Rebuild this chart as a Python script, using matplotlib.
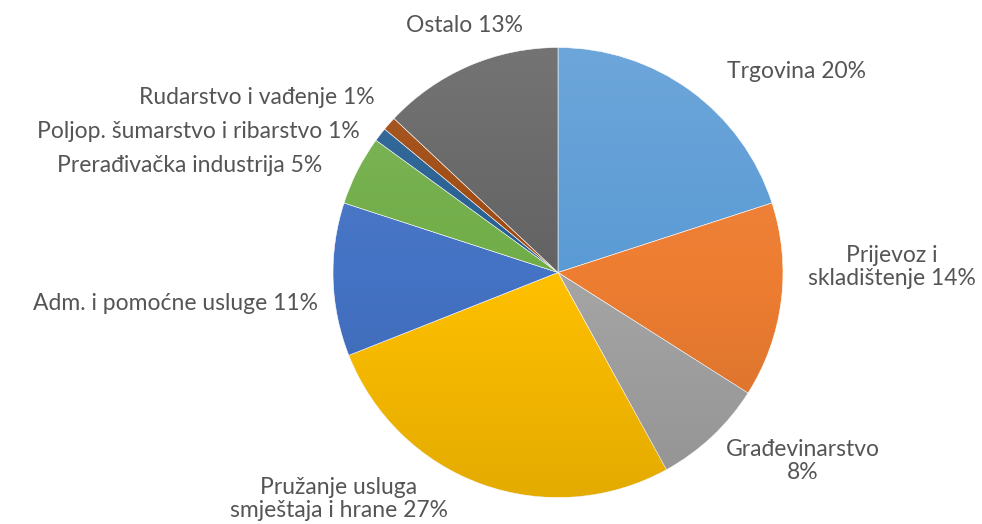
import numpy as np
import matplotlib
matplotlib.use('Agg')
import matplotlib.pyplot as plt

plt.rcParams['font.family'] = ['Lato', 'DejaVu Sans']

labels = ['Trgovina', 'Prijevoz i\nskladištenje', 'Građevinarstvo\n', 'Pružanje usluga\nsmještaja i hrane',
          'Adm. i pomoćne usluge', 'Prerađivačka industrija', 'Poljop. šumarstvo i ribarstvo',
          'Rudarstvo i vađenje', 'Ostalo']
shares = [20, 14, 8, 27, 11, 5, 1, 1, 13]
colors = ['#5B9BD5', '#ED7D31', '#A5A5A5', '#FFC000', '#4472C4', '#70AD47', '#255E91', '#9E480E', '#636363']

W, H = 982, 524

# label anchor points (pixels from top-left) and alignment
label_pos = [(797, 72, 'center'), (892, 267, 'center'), (803, 461, 'center'), (339, 499, 'center'),
             (318, 303, 'right'), (322, 165, 'right'), (360, 132, 'right'), (375, 97, 'right'),
             (465, 25, 'center')]

fig = plt.figure(figsize=(W / 100, H / 100), dpi=100)
ax = fig.add_axes([0, 0, 1, 1])
ax.set_aspect('equal')
ax.axis('off')

cx, cy, r = 558, H - 272.5, 225
wedges, _ = ax.pie(shares, colors=colors, startangle=90, counterclock=False,
                   center=(cx, cy), radius=r, frame=True,
                   wedgeprops=dict(linewidth=0.4, edgecolor='white'))

# soft vertical shading over each slice
grad = np.linspace(0, 1, 256).reshape(-1, 1)
shade = np.zeros((256, 1, 4))
shade[..., :3] = np.where(grad[..., None] < 0.5, 0.0, 1.0)
shade[..., 3] = np.abs(grad - 0.5) * 0.22
for w in wedges:
    im = ax.imshow(shade, extent=(cx - r, cx + r, cy - r, cy + r), origin='lower',
                   aspect='auto', zorder=w.get_zorder() + 0.1, interpolation='bilinear')
    im.set_clip_path(w)

for name, val, (x, y, ha) in zip(labels, shares, label_pos):
    sep = '' if name.endswith('\n') else ' '
    ax.text(x, H - y, f'{name}{sep}{val}%', ha=ha, va='center', fontsize=16.5,
            color='#555555', linespacing=1.15, multialignment='center')

ax.set_xlim(0, W)
ax.set_ylim(0, H)
fig.savefig('out.png', dpi=100, facecolor='white')
